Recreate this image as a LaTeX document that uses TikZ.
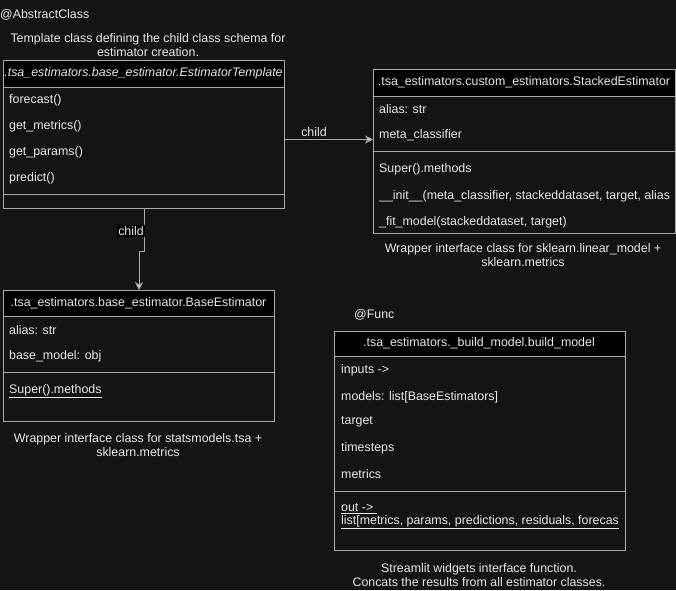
\documentclass[tikz,border=0pt]{standalone}
\usepackage{fontspec}
\setmainfont{Liberation Sans}
\usetikzlibrary{arrows.meta}
\definecolor{bg}{RGB}{20,20,20}
\definecolor{linec}{RGB}{170,170,170}
\definecolor{txt}{RGB}{232,232,232}
\begin{document}
\begin{tikzpicture}[x=1pt,y=-1pt,
  every node/.style={text=txt,font=\fontsize{12.4}{13.6}\selectfont,inner sep=0pt},
  classbox/.style={draw=linec,fill=bg,line width=1pt,anchor=north west,rectangle},
  hdrbox/.style={draw=linec,fill=black,line width=1pt,anchor=north west,rectangle},
  member/.style={anchor=west},
  caption/.style={align=center},
  divider/.style={draw=linec,line width=1pt},
  edge/.style={draw=linec,line width=1pt,-{Stealth[length=8pt,width=8pt,inset=2.5pt,fill=txt]}},
  elabel/.style={fill=black,inner sep=1pt}]
\path[fill=bg] (0,0) rectangle (676,590);
\useasboundingbox (0,0) rectangle (676,590);

% ---- EstimatorTemplate ----
\node[anchor=west] (abs) at (0,15) {@AbstractClass};
\node[caption] (cap1) at (148,45) {Template class defining the child class schema for\\estimator creation.};
\node[classbox,minimum width=281,minimum height=148] (tpl) at (3,60) {};
\node[hdrbox,minimum width=281,minimum height=27] (tplh) at (3,60) {};
\begin{scope}
\clip (3.5,60) rectangle (283.5,87);
\node (tplt) at (143.5,73.5) {\itshape .tsa\_estimators.base\_estimator.EstimatorTemplate};
\end{scope}
\node[member] (t1) at (9,100) {forecast()};
\node[member] (t2) at (9,126) {get\_metrics()};
\node[member] (t3) at (9,152) {get\_params()};
\node[member] (t4) at (9,178) {predict()};
\draw[divider] (3,194) -- (284,194);

% ---- StackedEstimator ----
\node[classbox,minimum width=302,minimum height=164] (stk) at (373,69) {};
\node[hdrbox,minimum width=302,minimum height=27] (stkh) at (373,69) {};
\node (stkt) at (524,82.5) {.tsa\_estimators.custom\_estimators.StackedEstimator};
\node[member] (s1) at (379,109) {alias: str};
\node[member] (s2) at (379,135) {meta\_classifier};
\draw[divider] (373,151) -- (675,151);
\node[member] (s3) at (379,169) {Super().methods};
\begin{scope}
\clip (373,183) rectangle (674.5,210);
\node[member] (s4) at (379,196) {\_\_init\_\_(meta\_classifier, stackeddataset, target, alias};
\end{scope}
\node[member] (s5) at (379,222) {\_fit\_model(stackeddataset, target)};
\node[caption] (cap2) at (523,255) {Wrapper interface class for sklearn.linear\_model +\\sklearn.metrics};

% ---- BaseEstimator ----
\node[classbox,minimum width=271,minimum height=131] (base) at (3,290) {};
\node[hdrbox,minimum width=271,minimum height=26] (baseh) at (3,290) {};
\node (baset) at (138.5,303) {.tsa\_estimators.base\_estimator.BaseEstimator};
\node[member] (b1) at (9,330) {alias: str};
\node[member] (b2) at (9,356) {base\_model: obj};
\draw[divider] (3,372) -- (274,372);
\node[member] (b3) at (9,391) {\underline{Super().methods}};
\node[caption] (cap3) at (138,445) {Wrapper interface class for statsmodels.tsa +\\sklearn.metrics};

% ---- build_model ----
\node[anchor=west] (func) at (354,315) {@Func};
\node[classbox,minimum width=291,minimum height=219] (bld) at (334,331) {};
\node[hdrbox,minimum width=291,minimum height=25] (bldh) at (334,331) {};
\node (bldt) at (479,343.5) {.tsa\_estimators.\_build\_model.build\_model};
\node[member] (f1) at (341,370) {inputs ->};
\node[member] (f2) at (341,397) {models: list[BaseEstimators]};
\node[member] (f3) at (341,422) {target};
\node[member] (f4) at (341,448) {timesteps};
\node[member] (f5) at (341,474) {metrics};
\draw[divider] (334,491) -- (625,491);
\node[member] (f6) at (341,509) {\underline{out -> }};
\begin{scope}
\clip (334,500) rectangle (624.5,535);
\node[member] (f7) at (341,522) {\underline{list[metrics, params, predictions, residuals, forecas}};
\end{scope}
\node[caption] (cap4) at (479,575) {Streamlit widgets interface function.\\Concats the results from all estimator classes.};

% ---- edges ----
\draw[edge] ([yshift=-5pt]tpl.east) -- node[above=2pt,pos=0.33] (l1) {child} ([yshift=12pt]stk.west);
\draw[edge] (tpl.south) -- ++(0,42) -| (base.north);
\node[elabel] (l2) at (131,231) {child};
\end{tikzpicture}
\end{document}
